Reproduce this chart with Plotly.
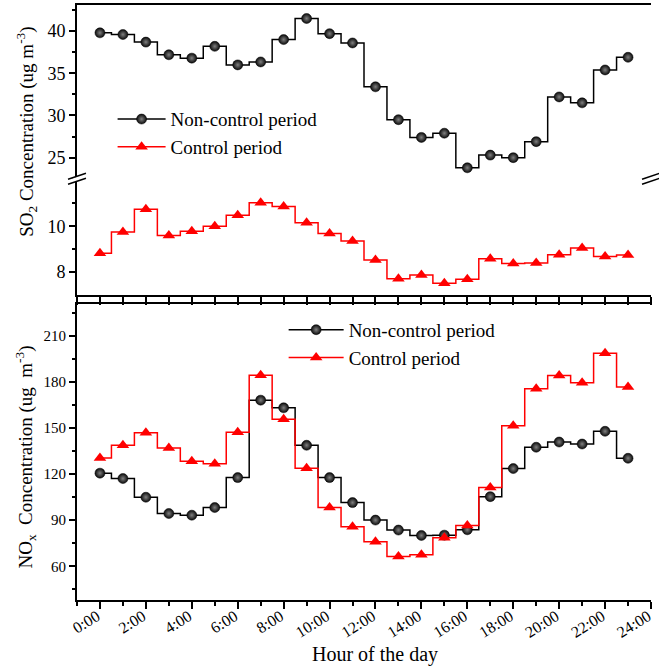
import plotly.graph_objects as go

hours = list(range(24))
tick_vals = list(range(0, 25, 2))
tick_text = [f"{h}:00" for h in tick_vals]

so2_non = [39.8, 39.6, 38.7, 37.2, 36.8, 38.2, 36.0, 36.35, 39.0, 41.5, 39.7, 38.6,
           33.4, 29.5, 27.4, 27.9, 23.8, 25.3, 25.0, 26.9, 32.2, 31.5, 35.4, 36.9]
so2_ctrl = [8.82, 9.75, 10.74, 9.59, 9.78, 10.0, 10.48, 11.02, 10.86, 10.15, 9.68, 9.36,
            8.53, 7.71, 7.87, 7.51, 7.69, 8.58, 8.37, 8.40, 8.76, 9.05, 8.68, 8.74]
nox_non = [120.7, 117.2, 105.0, 94.4, 93.3, 98.3, 117.8, 168.3, 163.3, 138.9, 117.8, 101.5,
           90.1, 83.6, 80.1, 80.3, 83.8, 105.4, 123.7, 137.6, 141.0, 139.7, 148.0, 130.4]
nox_ctrl = [130.6, 138.9, 147.1, 137.1, 128.5, 126.9, 147.3, 184.6, 155.8, 123.9, 98.3, 85.7,
            76.0, 66.4, 67.5, 78.6, 86.6, 111.3, 151.6, 175.7, 184.4, 179.6, 198.9, 176.8]

names = ["Non-control period", "Control period"]
FONT = "Liberation Serif"

black_marker = dict(symbol="circle", size=10, color="#0a0a0a",
                    line=dict(width=0.5, color="#000000"),
                    gradient=dict(type="radial", color="#808080"))
red_marker = dict(symbol="triangle-up", size=11, color="#ff0000")

fig = go.Figure()
fig.add_trace(go.Scatter(x=hours, y=so2_non, name=names[0], mode="lines+markers",
                         line=dict(shape="hvh", color="black", width=1.5),
                         marker=black_marker, xaxis="x2", yaxis="y", legend="legend"))
fig.add_trace(go.Scatter(x=hours, y=so2_ctrl, name=names[1], mode="lines+markers",
                         line=dict(shape="hvh", color="#ff0000", width=1.5),
                         marker=red_marker, xaxis="x", yaxis="y2", legend="legend"))
fig.add_trace(go.Scatter(x=hours, y=nox_non, name=names[0], mode="lines+markers",
                         line=dict(shape="hvh", color="black", width=1.5),
                         marker=black_marker, xaxis="x3", yaxis="y5", legend="legend2"))
fig.add_trace(go.Scatter(x=hours, y=nox_ctrl, name=names[1], mode="lines+markers",
                         line=dict(shape="hvh", color="#ff0000", width=1.5),
                         marker=red_marker, xaxis="x3", yaxis="y5", legend="legend2"))

axcommon = dict(showgrid=False, zeroline=False, linecolor="black", linewidth=2,
                tickcolor="black", tickwidth=1.5)
XR = [-1, 24]
SPLIT = 0.708
TOP0 = 0.5126
BOT1 = 0.4975

fig.update_layout(
    width=659, height=672,
    margin=dict(l=77, r=6, t=5, b=72),
    paper_bgcolor="white", plot_bgcolor="white",
    font=dict(family=FONT, color="black"),
    showlegend=True,
    xaxis=dict(domain=[0, 1], anchor="y2", range=XR, tickvals=list(range(-1, 25)),
               ticks="outside", ticklen=8, showticklabels=False, showline=True, **axcommon),
    xaxis2=dict(domain=[0, 1], anchor="y", range=XR, side="top", showline=True,
                ticks="", showticklabels=False, **axcommon),
    yaxis=dict(domain=[SPLIT, 1], anchor="x2", range=[22.5, 43.1], tickvals=[25, 30, 35, 40],
               ticks="outside", ticklen=6, showline=True, tickfont=dict(size=18, family=FONT),
               minor=dict(tickvals=[22.5, 27.5, 32.5, 37.5, 42.5], ticks="outside", ticklen=3,
                          tickcolor="black", tickwidth=1.5),
               **axcommon),
    yaxis2=dict(domain=[TOP0, SPLIT], anchor="x", range=[7, 12.07], tickvals=[8, 10],
                ticks="outside", ticklen=6, showline=True, tickfont=dict(size=18, family=FONT),
                minor=dict(tickvals=[9, 11], ticks="outside", ticklen=3,
                           tickcolor="black", tickwidth=1.5),
                **axcommon),
    yaxis3=dict(overlaying="y", anchor="x2", side="right", range=[22.5, 43.1],
                tickvals=[22.5, 25, 27.5, 30, 32.5, 35, 37.5, 40, 42.5], ticks="inside", ticklen=4,
                showticklabels=False, showline=True, **axcommon),
    yaxis4=dict(overlaying="y2", anchor="x", side="right", range=[7, 12.07],
                tickvals=[8, 9, 10, 11], ticks="inside", ticklen=4,
                showticklabels=False, showline=True, **axcommon),
    xaxis3=dict(domain=[0, 1], anchor="y5", range=XR, tickvals=tick_vals, ticktext=tick_text,
                ticks="outside", ticklen=7, tickangle=-32, showline=True, mirror=True,
                tickfont=dict(size=16, family=FONT), ticklabelstandoff=-8, ticklabelshift=-3,
                minor=dict(tickvals=list(range(-1, 25, 2)), ticks="outside", ticklen=4,
                           tickcolor="black", tickwidth=1.5),
                **axcommon),
    yaxis5=dict(domain=[0, BOT1], anchor="x3", range=[38, 231],
                tickvals=list(range(60, 211, 30)), ticks="outside", ticklen=6, showline=True,
                tickfont=dict(size=15, family=FONT),
                minor=dict(tickvals=list(range(45, 231, 30)), ticks="outside", ticklen=3,
                           tickcolor="black", tickwidth=1.5),
                **axcommon),
    yaxis6=dict(overlaying="y5", anchor="x3", side="right", range=[38, 231],
                tickvals=list(range(45, 231, 15)), ticks="inside", ticklen=4,
                showticklabels=False, showline=True, **axcommon),
    legend=dict(x=0.062, y=0.84, xanchor="left", yanchor="top", bgcolor="rgba(0,0,0,0)",
                font=dict(size=19, family=FONT), tracegroupgap=0, itemwidth=48),
    legend2=dict(x=0.36, y=0.486, xanchor="left", yanchor="top", bgcolor="rgba(0,0,0,0)",
                 font=dict(size=19, family=FONT), tracegroupgap=0, itemwidth=55),
)

# axis titles
fig.add_annotation(text="SO<sub>2</sub> Concentration (ug m<sup>-3</sup>)", xref="paper", yref="paper",
                   x=-0.087, y=0.787, textangle=-90, showarrow=False,
                   font=dict(size=19, family=FONT), xanchor="center", yanchor="middle")
fig.add_annotation(text="NO<sub>x</sub>  Concentration (ug  m<sup>-3</sup>)", xref="paper", yref="paper",
                   x=-0.09, y=0.24, textangle=-90, showarrow=False,
                   font=dict(size=19, family=FONT), xanchor="center", yanchor="middle")
fig.add_annotation(text="Hour of the day", xref="paper", yref="paper",
                   x=0.519, y=-0.0924, showarrow=False,
                   font=dict(size=20, family=FONT), xanchor="center", yanchor="middle")

# axis break marks
pxw = 1 / 576
pxh = 1 / 595
for xc in (0, 1):
    dx, dy = 9 * pxw, 3 * pxh
    fig.add_shape(type="line", xref="paper", yref="paper",
                  x0=xc - dx * 0.6, x1=xc + dx * 0.6, y0=SPLIT - dy * 0.6, y1=SPLIT + dy * 0.6,
                  line=dict(color="white", width=4), layer="above")
    for off in (-2.5, 2.5):
        fig.add_shape(type="line", xref="paper", yref="paper",
                      x0=xc - dx, x1=xc + dx,
                      y0=SPLIT + off * pxh - dy, y1=SPLIT + off * pxh + dy,
                      line=dict(color="black", width=1.5), layer="above")

fig.write_html("out.html")
